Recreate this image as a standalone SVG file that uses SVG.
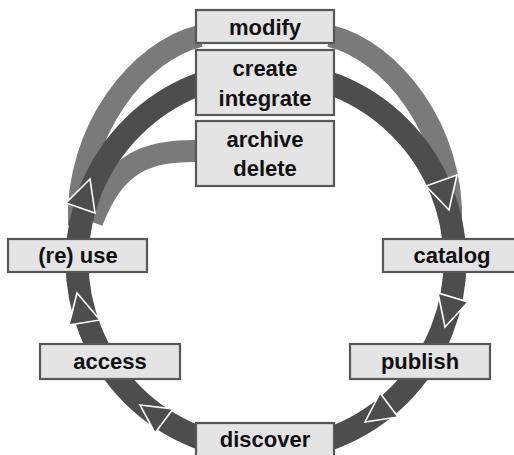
<svg xmlns="http://www.w3.org/2000/svg" width="514" height="455" viewBox="0 0 514 455">
<style>
.box{fill:#e4e4e4;stroke:#575757;stroke-width:2.2}
.lbl{font-family:"Liberation Sans",Arial,sans-serif;font-weight:bold;font-size:22px;fill:#111;text-anchor:middle}
.dark{fill:none;stroke:#4d4d4d;stroke-width:23}
.light{fill:none;stroke:#7a7a7a;stroke-width:22}
.head{fill:#4d4d4d;stroke:#ffffff;stroke-width:1.6;stroke-linejoin:miter}
</style>
<rect width="514" height="455" fill="#ffffff"/>
<g id="connectors">
  <path class="light" d="M 79 225 C 75 130, 140 50, 200 36"/>
  <path class="light" d="M 451 225 C 455 130, 390 50, 330 36"/>
  <path class="light" d="M 198 151 C 150 150, 115 160, 92 222"/>
  <circle class="dark" cx="266" cy="261" r="189"/>
  <polygon class="head" points="90,179 66,203 95,213"/>
  <polygon class="head" points="449,210 426,186 457,175"/>
  <polygon class="head" points="445,327 438,293 468,302"/>
  <polygon class="head" points="365,422 380,393 398,417"/>
  <polygon class="head" points="140,405 173,409 155,433"/>
  <polygon class="head" points="77,293 69,325 100,320"/>
</g>
<g id="modify"><rect class="box" x="196" y="10" width="138" height="33"/><text class="lbl" x="265" y="35">modify</text></g>
<g id="create"><rect class="box" x="196" y="50" width="138" height="65"/><text class="lbl" x="265" y="76">create</text><text class="lbl" x="265" y="106">integrate</text></g>
<g id="archive"><rect class="box" x="196" y="121" width="138" height="65"/><text class="lbl" x="265" y="147">archive</text><text class="lbl" x="265" y="176">delete</text></g>
<g id="reuse"><rect class="box" x="8" y="239" width="139" height="33"/><text class="lbl" x="78" y="263">(re) use</text></g>
<g id="catalog"><rect class="box" x="383" y="239" width="138" height="33"/><text class="lbl" x="452" y="263">catalog</text></g>
<g id="access"><rect class="box" x="40" y="344" width="140" height="35"/><text class="lbl" x="110" y="369">access</text></g>
<g id="publish"><rect class="box" x="350" y="344" width="140" height="35"/><text class="lbl" x="420" y="369">publish</text></g>
<g id="discover"><rect class="box" x="196" y="423" width="138" height="40"/><text class="lbl" x="265" y="447">discover</text></g>
</svg>
